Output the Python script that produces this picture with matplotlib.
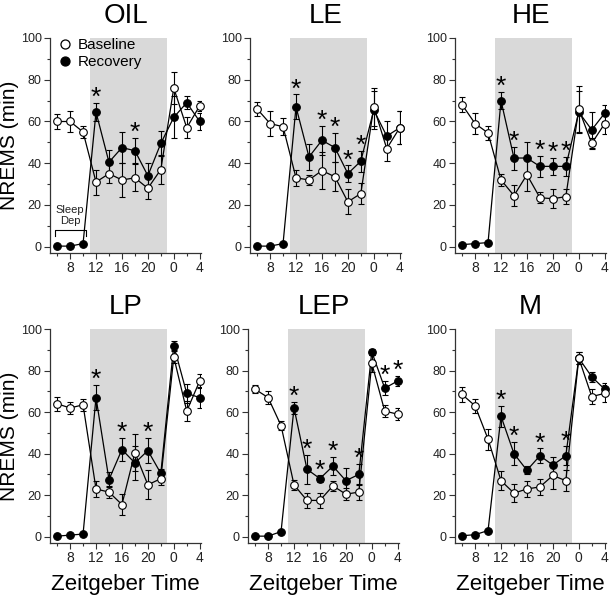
import numpy as np
import matplotlib
matplotlib.use("Agg")
import matplotlib.pyplot as plt
from matplotlib.lines import Line2D
from matplotlib.ticker import FixedLocator

plt.rcParams['font.family'] = ['Liberation Sans', 'DejaVu Sans']

# Zeitgeber time of each 2 h bin (24 = ZT0 of the next day)
zt = [6, 8, 10, 12, 14, 16, 18, 20, 22, 24, 26, 28]
xtick_pos = [8, 12, 16, 20, 24, 28]
xtick_labels = ['8', '12', '16', '20', '0', '4']
dark_start, dark_end = 11, 23
sleep_dep = (6, 10)

# NREMS (min) per 2 h, mean and SEM
oil_base = [60, 60, 55, 31, 35, 32, 33, 28, 37, 76, 57, 67.5]
oil_base_err = [3.5, 5, 3, 6, 4.5, 8, 6.5, 5, 7, 7.5, 5, 2.5]
oil_rec = [0.3, 0.3, 1.5, 64.5, 40.5, 47.5, 46, 34, 49.5, 62, 69, 60]
oil_rec_err = [0, 0, 0, 4.5, 6, 7.5, 6, 6, 6, 10, 3, 4]
oil_stars = [12, 18]

le_base = [66, 59, 57.5, 33, 32, 36.5, 33.5, 21.5, 25.5, 67, 47, 57]
le_base_err = [3.5, 6, 4, 4, 2.5, 9, 7, 6, 5, 9, 6, 8]
le_rec = [0.3, 0.3, 1.5, 67, 43, 51, 47.5, 35, 41, 65.5, 53, 57]
le_rec_err = [0, 0, 0, 6, 6, 7, 7, 4, 5, 9, 7, 8]
le_stars = [12, 16, 18, 20, 22]

he_base = [68, 59, 54.5, 32, 24.5, 34.5, 23.5, 23, 24, 66, 49.5, 59]
he_base_err = [3.5, 5, 3.5, 3, 5, 8, 2.5, 4.5, 3.5, 11, 2.5, 5]
he_rec = [1, 1.5, 2, 70, 42.5, 42.5, 38.5, 38.5, 38.5, 64.5, 56, 64]
he_rec_err = [0, 0, 0, 4, 5.5, 7.5, 5, 4, 4.5, 10, 8.5, 4]
he_stars = [12, 14, 18, 20, 22]

lp_base = [64, 62, 63.5, 23, 21.5, 15.5, 40.5, 25, 28, 86.5, 60.5, 75]
lp_base_err = [3.5, 3, 3, 4, 3, 5, 9, 7, 3, 3, 5, 3.5]
lp_rec = [0.3, 0.8, 1.3, 67, 27.5, 42, 35.5, 41.5, 30.5, 92, 69, 67]
lp_rec_err = [0, 0, 0, 6, 3.5, 5.5, 8, 6, 2, 2, 4.5, 5]
lp_stars = [12, 16, 20]

lep_base = [71, 67, 53.5, 25, 17.5, 17.5, 24.5, 20.5, 21.5, 83.5, 60.5, 59]
lep_base_err = [2, 3, 2, 2.5, 3.5, 3.5, 2.5, 3, 4, 4, 3, 3]
lep_rec = [0.3, 0.3, 2.5, 62, 32.5, 28, 34, 27, 30, 89, 71.5, 75]
lep_rec_err = [0, 0, 0, 3, 7, 1.5, 4.5, 6, 5, 1.5, 3.5, 2.5]
lep_stars = [12, 14, 16, 18, 22, 26, 28]

m_base = [68.5, 63, 47, 27, 21, 23, 24, 29.5, 27, 86, 67.5, 69]
m_base_err = [3.5, 3.5, 5, 4.5, 4.5, 4, 4, 6.5, 5, 3, 3.5, 4]
m_rec = [0.5, 1, 3, 58, 40, 32, 39, 34.5, 39, 86, 77, 71]
m_rec_err = [0, 0, 0, 5, 5.5, 2, 3.5, 4, 4.5, 3, 2.5, 3]
m_stars = [12, 14, 18, 22]

panels = [
    ('OIL', oil_base, oil_base_err, oil_rec, oil_rec_err, oil_stars),
    ('LE', le_base, le_base_err, le_rec, le_rec_err, le_stars),
    ('HE', he_base, he_base_err, he_rec, he_rec_err, he_stars),
    ('LP', lp_base, lp_base_err, lp_rec, lp_rec_err, lp_stars),
    ('LEP', lep_base, lep_base_err, lep_rec, lep_rec_err, lep_stars),
    ('M', m_base, m_base_err, m_rec, m_rec_err, m_stars),
]

W, H = 611, 595
fig = plt.figure(figsize=(W / 100, H / 100), dpi=100)

# axes boxes in pixels: left, top, bottom
lefts = [50, 250, 455, 50, 248, 455]
width = 151
tops = [38, 38, 38, 329, 329, 329]
bottoms = [253, 253, 253, 543, 543, 543]

x = np.array(zt, dtype=float)
tick_col = '#222222'

for i, (name, base, base_err, rec, rec_err, stars) in enumerate(panels):
    l, t, b = lefts[i], tops[i], bottoms[i]
    ax = fig.add_axes([l / W, 1 - b / H, width / W, (b - t) / H])
    base = np.array(base); base_err = np.array(base_err)
    rec = np.array(rec); rec_err = np.array(rec_err)

    ax.axvspan(dark_start, dark_end, color='#d9d9d9', lw=0, zorder=0)

    # error bars (skip zero SEM)
    for y, e in [(rec, rec_err), (base, base_err)]:
        m = e > 0
        ax.errorbar(x[m], y[m], yerr=e[m], fmt='none', ecolor='k',
                    elinewidth=0.8, capsize=2, capthick=0.8, zorder=2)

    ax.plot(x, rec, '-o', color='k', lw=0.9, ms=5.5, mfc='k', mec='k',
            mew=0.8, zorder=3, clip_on=False)
    ax.plot(x, base, '-o', color='k', lw=0.9, ms=5.5, mfc='white', mec='k',
            mew=0.8, zorder=4, clip_on=False)

    for s in stars:
        j = zt.index(s)
        ax.text(s, rec[j] + rec_err[j] - 1, '*', ha='center', va='baseline',
                fontsize=19, color='k', zorder=5)

    ax.set_xlim(4.9, 28.2)
    ax.set_ylim(-3, 100)
    ax.set_xticks(xtick_pos)
    ax.set_xticklabels(xtick_labels)
    ax.xaxis.set_minor_locator(FixedLocator([6, 10, 14, 18, 22, 26]))
    ax.set_yticks([0, 20, 40, 60, 80, 100])
    ax.yaxis.set_minor_locator(FixedLocator([10, 30, 50, 70, 90]))
    ax.tick_params(axis='both', which='major', direction='out', length=4,
                   width=0.8, colors='#333333', labelcolor=tick_col, pad=2)
    ax.tick_params(axis='both', which='minor', direction='out', length=2.5,
                   width=0.8, colors='#333333')
    ax.tick_params(axis='y', labelsize=9)
    ax.tick_params(axis='x', labelsize=10)
    for sp in ['top', 'right']:
        ax.spines[sp].set_visible(False)
    for sp in ['left', 'bottom']:
        ax.spines[sp].set_linewidth(0.9)
        ax.spines[sp].set_color('#333333')

    ax.set_title(name, fontsize=20, pad=11)
    if i % 3 == 0:
        fig.text(10 / W, 1 - (t + b) / 2 / H, 'NREMS (min)', rotation=90,
                 ha='center', va='center', fontsize=15)
    if i >= 3:
        fig.text((l + width / 2) / W, 5 / H, 'Zeitgeber Time', ha='center',
                 va='baseline', fontsize=16)

    if name == 'OIL':
        s0, s1 = sleep_dep
        ax.plot([s0 - 0.4, s0 - 0.4, s1 + 0.4, s1 + 0.4], [5, 8, 8, 5],
                color='k', lw=0.8, zorder=3)
        ax.text((s0 + s1) / 2, 15, 'Sleep\nDep', ha='center', va='center',
                fontsize=8, linespacing=1.1, color='#222222')
        handles = [
            Line2D([], [], marker='o', ls='none', ms=6.5, mfc='white', mec='k', mew=0.9),
            Line2D([], [], marker='o', ls='none', ms=6.5, mfc='k', mec='k', mew=0.9),
        ]
        ax.legend(handles, ['Baseline', 'Recovery'], loc='upper left',
                  bbox_to_anchor=(0.06, 1.0), frameon=False, fontsize=11,
                  handlelength=0.8, handletextpad=0.4, labelspacing=0.2,
                  borderaxespad=0, borderpad=0)

fig.savefig('out.png', dpi=100)
